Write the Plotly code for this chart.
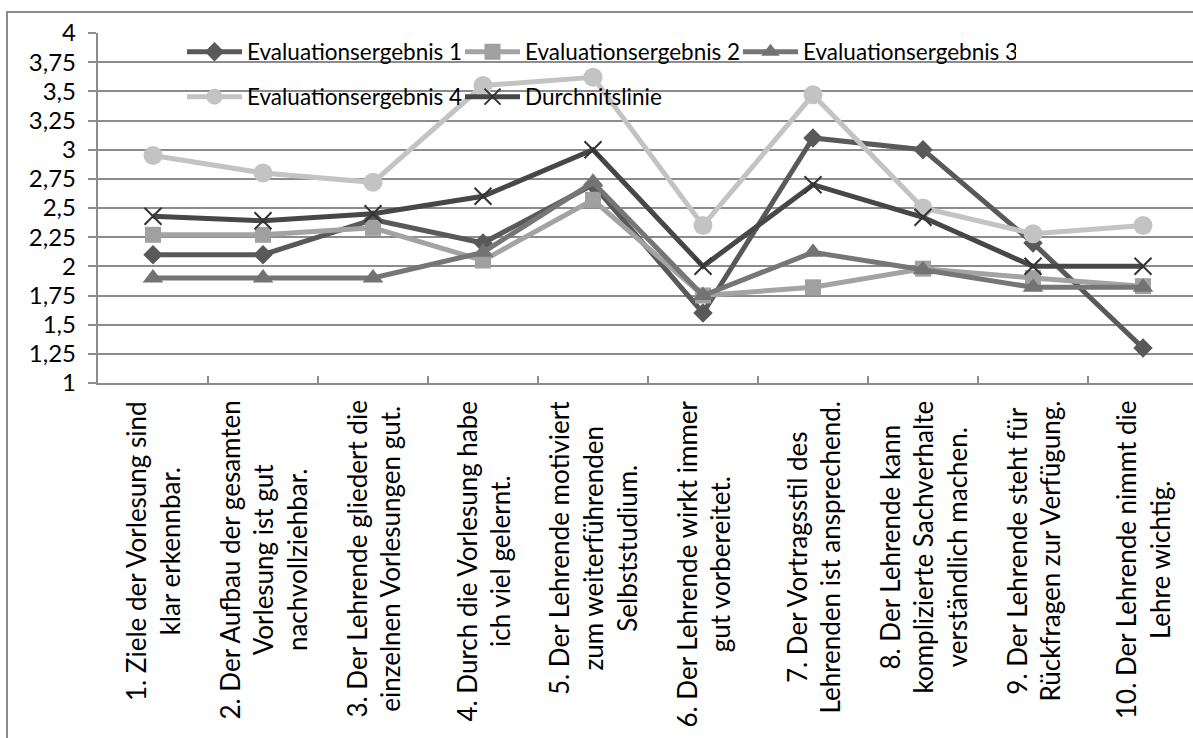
import plotly.graph_objects as go

categories = [
    "1. Ziele der Vorlesung sind<br>klar erkennbar.",
    "2. Der Aufbau der gesamten<br>Vorlesung ist gut<br>nachvollziehbar.",
    "3. Der Lehrende gliedert die<br>einzelnen Vorlesungen gut.",
    "4. Durch die Vorlesung habe<br>ich viel gelernt.",
    "5. Der Lehrende motiviert<br>zum weiterführenden<br>Selbststudium.",
    "6. Der Lehrende wirkt immer<br>gut vorbereitet.",
    "7. Der Vortragsstil des<br>Lehrenden ist ansprechend.",
    "8. Der Lehrende kann<br>komplizierte Sachverhalte<br>verständlich machen.",
    "9. Der Lehrende steht für<br>Rückfragen zur Verfügung.",
    "10. Der Lehrende nimmt die<br>Lehre wichtig.",
]

eval1 = [2.1, 2.1, 2.4, 2.2, 2.7, 1.6, 3.1, 3.0, 2.2, 1.3]
eval2 = [2.27, 2.27, 2.33, 2.05, 2.57, 1.75, 1.82, 1.98, 1.9, 1.83]
eval3 = [1.9, 1.9, 1.9, 2.12, 2.72, 1.75, 2.12, 1.97, 1.82, 1.82]
eval4 = [2.95, 2.8, 2.72, 3.55, 3.62, 2.35, 3.47, 2.5, 2.28, 2.35]
durchschnitt = [2.43, 2.39, 2.45, 2.6, 3.0, 2.0, 2.7, 2.42, 2.0, 2.0]

y_tickvals = [1, 1.25, 1.5, 1.75, 2, 2.25, 2.5, 2.75, 3, 3.25, 3.5, 3.75, 4]
y_ticktext = ["1", "1,25", "1,5", "1,75", "2", "2,25", "2,5", "2,75", "3", "3,25", "3,5", "3,75", "4"]

FONT = "Lato"
W, H = 1193, 738
L, T, B = 72, 33, 355          # page margins
AX_X = 98                      # pixel x of the y axis line
LBL_X = 76                     # pixel x where the y tick labels are anchored
paper_w = W - L
plot_w = W - AX_X
plot_h = H - T - B


def px_x(p):
    return (p - L) / paper_w


def px_y(p):
    return (383 - p) / plot_h


fig = go.Figure()
fig.add_trace(go.Scatter(x=categories, y=eval1, mode="lines+markers", name="Evaluationsergebnis 1",
                         line=dict(color="#595959", width=5),
                         marker=dict(symbol="diamond", size=15, color="#595959"), legend="legend"))
fig.add_trace(go.Scatter(x=categories, y=eval2, mode="lines+markers", name="Evaluationsergebnis 2",
                         line=dict(color="#a3a3a3", width=5),
                         marker=dict(symbol="square", size=16, color="#a0a0a0"), legend="legend"))
fig.add_trace(go.Scatter(x=categories, y=eval3, mode="lines+markers", name="Evaluationsergebnis 3",
                         line=dict(color="#767676", width=5),
                         marker=dict(symbol="triangle-up", size=18, color="#737373"), legend="legend"))
fig.add_trace(go.Scatter(x=categories, y=eval4, mode="lines+markers", name="Evaluationsergebnis 4",
                         line=dict(color="#c3c3c3", width=5),
                         marker=dict(symbol="circle", size=19, color="#c3c3c3"), legend="legend2"))
fig.add_trace(go.Scatter(x=categories, y=durchschnitt, mode="lines+markers", name="Durchnitslinie",
                         line=dict(color="#474747", width=5),
                         marker=dict(symbol="x-thin", size=17, color="#333333",
                                     line=dict(color="#333333", width=2)), legend="legend2"))
# empty trace that only registers the label axis (y2) so that it gets drawn
fig.add_trace(go.Scatter(x=[], y=[], yaxis="y2", mode="markers", showlegend=False, hoverinfo="skip"))

for cat in categories:
    fig.add_annotation(x=cat, xref="x", y=px_y(399), yref="paper",
                       text=cat, textangle=-90, showarrow=False, align="center",
                       xanchor="center", yanchor="top",
                       font=dict(family=FONT, size=26, color="#000000"))

legend_common = dict(orientation="h", xanchor="left", yanchor="middle",
                     bgcolor="rgba(0,0,0,0)", font=dict(family=FONT, size=22.5, color="#000000"),
                     entrywidth=208, entrywidthmode="pixels", itemwidth=55)

fig.update_layout(
    width=W, height=H,
    margin=dict(l=L, r=0, t=T, b=B, pad=0, autoexpand=False),
    paper_bgcolor="white", plot_bgcolor="white",
    font=dict(family=FONT, size=20, color="#000000"),
    showlegend=True,
    legend=dict(x=px_x(182), y=px_y(52), **legend_common),
    legend2=dict(x=px_x(182), y=px_y(97), **legend_common),
    xaxis=dict(type="category", domain=[px_x(AX_X), 1],
               range=[-0.5, -0.5 + plot_w / 110.0],
               showticklabels=False, showgrid=False, showline=True,
               linecolor="#8c8c8c", linewidth=2, ticks="inside", ticklen=7,
               tickcolor="#8c8c8c", tickwidth=2, tickson="boundaries", zeroline=False),
    yaxis=dict(range=[1, 4], tickvals=y_tickvals, showticklabels=False,
               showgrid=True, gridcolor="#8c8c8c", gridwidth=2,
               showline=True, linecolor="#8c8c8c", linewidth=2,
               ticks="outside", ticklen=8, tickcolor="#8c8c8c", tickwidth=2,
               zeroline=False, automargin=False),
    yaxis2=dict(range=[1, 4], overlaying="y", anchor="free", position=px_x(LBL_X), side="left",
                tickvals=y_tickvals, ticktext=y_ticktext, showgrid=False, showline=False,
                ticks="", zeroline=False, automargin=False,
                tickfont=dict(family=FONT, size=24, color="#000000")),
)

fig.add_shape(type="rect", xref="paper", yref="paper",
              x0=px_x(7), x1=1.05, y0=-1.2, y1=px_y(12),
              line=dict(color="#8c8c8c", width=2), fillcolor="rgba(0,0,0,0)", layer="below")

fig.write_html("out.html")
